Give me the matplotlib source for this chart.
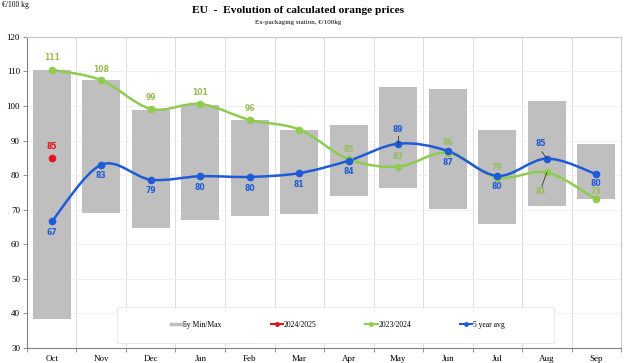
import numpy as np
import matplotlib
matplotlib.use("Agg")
import matplotlib.pyplot as plt
from matplotlib.path import Path
from matplotlib.patches import PathPatch, Rectangle
from matplotlib.lines import Line2D

months = ["Oct", "Nov", "Dec", "Jan", "Feb", "Mar", "Apr", "May", "Jun", "Jul", "Aug", "Sep"]
min5 = [38.5, 69.0, 64.6, 67.0, 68.2, 68.7, 73.9, 76.4, 70.2, 66.0, 71.0, 73.0]
max5 = [110.3, 107.5, 99.0, 100.4, 95.9, 93.0, 94.6, 105.5, 104.9, 93.2, 101.4, 88.9]
s2324 = [110.5, 107.5, 99.2, 100.6, 96.0, 93.2, 84.6, 82.5, 86.5, 79.3, 80.8, 73.0]
avg5 = [66.6, 83.0, 78.7, 79.7, 79.5, 80.6, 84.2, 89.1, 87.0, 79.8, 84.8, 80.3]
s2425 = [85.0]
lab2324 = ["111", "108", "99", "101", "96", "", "85", "83", "86", "79", "81", "73"]
labavg = ["67", "83", "79", "80", "80", "81", "84", "89", "87", "80", "85", "80"]
lab2425 = ["85"]

GREEN = "#8fcb4f"
GREEN_T = "#9bbb59"
BLUE = "#1f5bd8"
RED = "#e3141b"
GRAY = "#bfbfbf"

fig = plt.figure(figsize=(6.26, 3.63), dpi=100)
ax = fig.add_axes([0.0431, 0.0413, 0.949, 0.857])
x = np.arange(len(months))

ax.bar(x, np.array(max5) - np.array(min5), bottom=min5, width=0.77, color=GRAY, zorder=2)


def smooth_path(xs, ys):
    pts = np.column_stack([xs, ys]).astype(float)
    verts = [pts[0]]
    codes = [Path.MOVETO]
    n = len(pts)
    for i in range(n - 1):
        p0 = pts[i - 1] if i > 0 else pts[i]
        p1 = pts[i]
        p2 = pts[i + 1]
        p3 = pts[i + 2] if i + 2 < n else pts[i + 1]
        c1 = p1 + (p2 - p0) / 6.0
        c2 = p2 - (p3 - p1) / 6.0
        verts += [c1, c2, p2]
        codes += [Path.CURVE4] * 3
    return Path(verts, codes)


for ys, col in [(s2324, GREEN), (avg5, BLUE)]:
    ax.add_patch(PathPatch(smooth_path(x, ys), facecolor="none", edgecolor=col, lw=1.8, zorder=3))
    ax.plot(x, ys, "o", color=col, ms=4.5, zorder=4)
ax.plot(x[:len(s2425)], s2425, "o", color=RED, ms=4.5, zorder=4)

lab_kw = dict(fontsize=5.5, fontweight="bold", ha="center", va="center", family="DejaVu Sans", zorder=5)
g_off = [(0, 9), (0, 8), (0, 8), (0, 8), (0, 8), None, (0, 7), (0, 7), (0, 7), (0, 7), (-4, -14), (0, 5.5)]
b_off = [(0, -8), (0, -8), (0, -8), (0, -8), (0, -8), (0, -8), (0, -8), (0, 10), (0, -8), (0, -8), (-4, 11), (0, -6.5)]
for i in range(len(months)):
    if g_off[i] is not None and lab2324[i]:
        ax.annotate(lab2324[i], (x[i], s2324[i]), xytext=g_off[i], textcoords="offset points",
                    color=GREEN_T, **lab_kw)
    ax.annotate(labavg[i], (x[i], avg5[i]), xytext=b_off[i], textcoords="offset points",
                color=BLUE, **lab_kw)
ax.annotate(lab2425[0], (x[0], s2425[0]), xytext=(0, 8), textcoords="offset points", color=RED, **lab_kw)
# leader lines
ax.plot([x[7], x[7]], [avg5[7], avg5[7] + 2.3], color="#333333", lw=0.6, zorder=5)
ax.plot([x[10], x[10] - 0.1], [avg5[10], avg5[10] + 2.0], color="#333333", lw=0.6, zorder=5)
ax.plot([x[10], x[10] - 0.1], [s2324[10], s2324[10] - 4.0], color="#333333", lw=0.6, zorder=5)

ax.set_xlim(-0.5, len(months) - 0.5)
ax.set_ylim(30, 120)
ax.set_yticks(np.arange(30, 121, 10))
ax.set_xticks(x)
ax.set_xticklabels(months)
ax.set_xticks(np.arange(-0.5, len(months), 1), minor=True)
ax.tick_params(axis="x", which="major", length=0, pad=5)
ax.tick_params(axis="x", which="minor", length=3, color="#808080", width=0.6)
ax.tick_params(axis="y", length=3, color="#808080", width=0.6, pad=2)
for lab in ax.get_xticklabels() + ax.get_yticklabels():
    lab.set_family("Liberation Serif")
    lab.set_fontsize(6.5)
ax.grid(True, axis="x", which="minor", color="#dcdcdc", lw=0.7, zorder=0)
ax.grid(True, axis="y", which="major", color="#f0f0f0", lw=0.7, zorder=0)
ax.set_axisbelow(True)
for s in ["top", "right"]:
    ax.spines[s].set_color("#c8c8c8")
for s in ["left", "bottom"]:
    ax.spines[s].set_color("#808080")
    ax.spines[s].set_linewidth(0.8)

# legend
ax.add_patch(Rectangle((0.152, 0.016), 0.735, 0.116, transform=ax.transAxes, facecolor="white",
                       edgecolor="#e6e6e6", lw=0.6, zorder=6))
handles = [Line2D([], [], color=GRAY, lw=2.5),
           Line2D([], [], color=RED, lw=1.5, marker="o", ms=2.5),
           Line2D([], [], color=GREEN, lw=1.5, marker="o", ms=2.5),
           Line2D([], [], color=BLUE, lw=1.5, marker="o", ms=2.5)]
leg = ax.legend(handles, ["5y Min/Max", "2024/2025", "2023/2024", "5 year avg"], loc="center",
                bbox_to_anchor=(0.523, 0.074), ncol=4, frameon=False, handlelength=1.6, handletextpad=0.1,
                columnspacing=6.4, prop={"family": "Liberation Serif", "size": 5.5})
leg.set_zorder(7)

fig.text(0.476, 0.972, "EU  -  Evolution of calculated orange prices", ha="center", va="center",
         family="Liberation Serif", fontweight="bold", fontsize=8.2)
fig.text(0.476, 0.937, "Ex-packaging station, €/100kg", ha="center", va="center",
         family="Liberation Serif", fontsize=5)
fig.text(0.003, 0.985, "€/100 kg", ha="left", va="center", family="Liberation Serif", fontsize=5.5)

fig.savefig("out.png", dpi=100)
